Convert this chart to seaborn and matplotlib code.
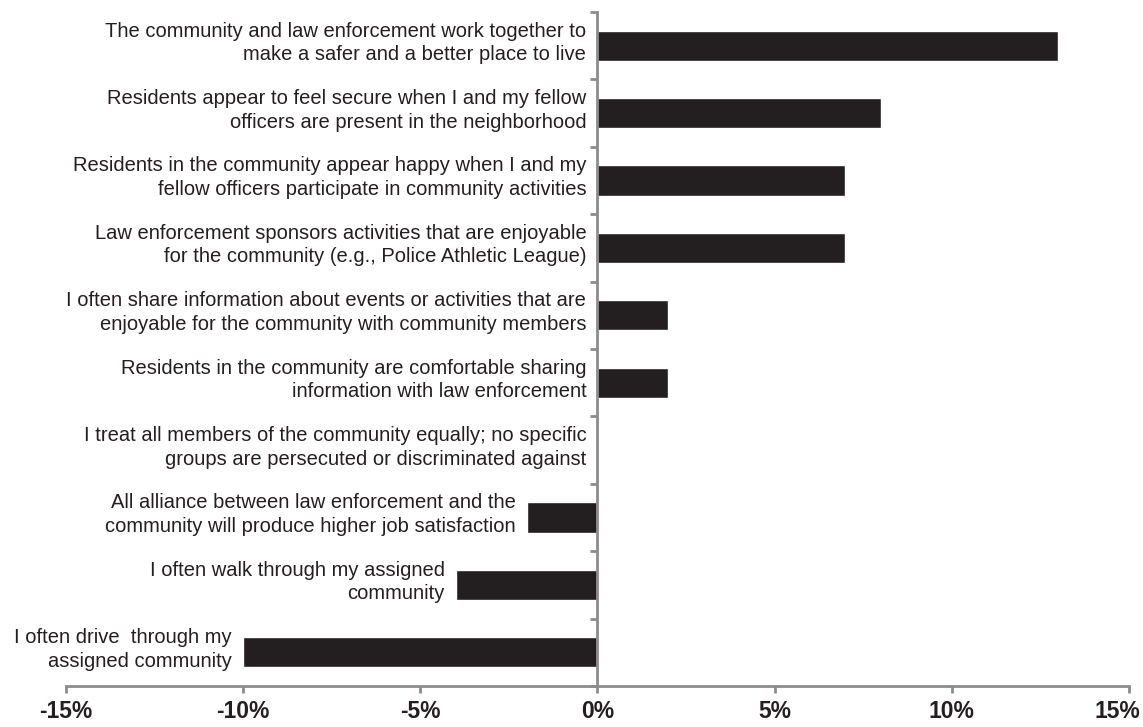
import pandas as pd
import seaborn as sns
from matplotlib import pyplot as plt
from matplotlib.ticker import FixedLocator
from matplotlib.transforms import ScaledTranslation

statements = [
    "The community and law enforcement work together to\nmake a safer and a better place to live",
    "Residents appear to feel secure when I and my fellow\nofficers are present in the neighborhood",
    "Residents in the community appear happy when I and my\nfellow officers participate in community activities",
    "Law enforcement sponsors activities that are enjoyable\nfor the community (e.g., Police Athletic League)",
    "I often share information about events or activities that are\nenjoyable for the community with community members",
    "Residents in the community are comfortable sharing\ninformation with law enforcement",
    "I treat all members of the community equally; no specific\ngroups are persecuted or discriminated against",
    "All alliance between law enforcement and the\ncommunity will produce higher job satisfaction",
    "I often walk through my assigned\ncommunity",
    "I often drive  through my\nassigned community",
]
change_pct = [13, 8, 7, 7, 2, 2, 0, -2, -4, -10]
x_ticks = [-15, -10, -5, 0, 5, 10, 15]
x_tick_labels = ["-15%", "-10%", "-5%", "0%", "5%", "10%", "15%"]

bar_color = "#231f20"
axis_color = "#8c8c8c"

df = pd.DataFrame({"statement": statements, "change": change_pct})

sns.set_style("white")
plt.rcParams["font.family"] = ["Liberation Sans", "DejaVu Sans"]

fig = plt.figure(figsize=(11.43, 7.27), dpi=100)
ax = fig.add_axes([0.0577, 0.0564, 0.9300, 0.9271])

sns.barplot(data=df, x="change", y="statement", orient="h",
            color=bar_color, width=0.45, saturation=1, ax=ax)

ax.set_xlim(-15, 15)
ax.set_ylim(len(statements) - 0.5, -0.5)
ax.set_xlabel("")
ax.set_ylabel("")

# labels sit just left of the bar (or of the zero line)
for i, (txt, v) in enumerate(zip(statements, change_pct)):
    ax.annotate(txt, xy=(min(v, 0), i), xytext=(-8, 2), textcoords="offset points",
                ha="right", va="center", fontsize=14.5, color=bar_color,
                linespacing=1.3)

ax.set_yticks([])
ax.yaxis.set_minor_locator(FixedLocator([k - 0.5 for k in range(len(statements) + 1)]))
ax.tick_params(axis="y", which="minor", left=True, length=5, width=2, color=axis_color)

ax.set_xticks(x_ticks)
ax.set_xticklabels(x_tick_labels, fontsize=16.5, fontweight="bold", color=bar_color)
ax.tick_params(axis="x", which="major", bottom=True, length=5, width=2,
               color=axis_color, pad=5)
# last label is pulled in so it stays inside the picture
last = ax.get_xticklabels()[-1]
last.set_transform(last.get_transform() + ScaledTranslation(-12 / 100, 0, fig.dpi_scale_trans))

for s in ["top", "right"]:
    ax.spines[s].set_visible(False)
ax.spines["left"].set_position(("data", 0))
ax.spines["left"].set_color(axis_color)
ax.spines["left"].set_linewidth(2)
ax.spines["bottom"].set_color(axis_color)
ax.spines["bottom"].set_linewidth(2)

fig.savefig("out.png", dpi=100)
